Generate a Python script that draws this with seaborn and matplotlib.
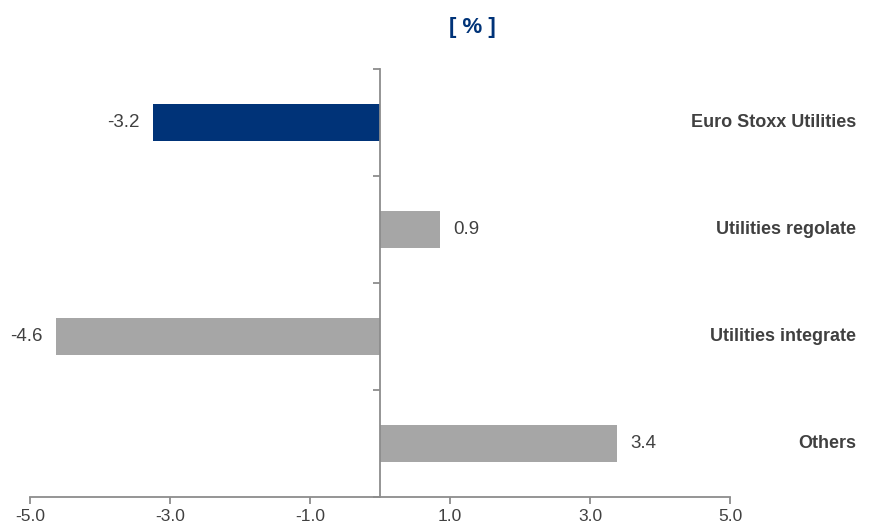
import numpy as np
import pandas as pd
import matplotlib
matplotlib.use('Agg')
import matplotlib.pyplot as plt
import matplotlib.transforms as mtransforms
import seaborn as sns

# данные
categories = ['Euro Stoxx Utilities', 'Utilities regolate', 'Utilities integrate', 'Others']
values = [-3.24, 0.86, -4.63, 3.39]
groups = ['index', 'other', 'other', 'other']
x_ticks = [-5.0, -3.0, -1.0, 1.0, 3.0, 5.0]

df = pd.DataFrame({'cat': categories, 'val': values, 'grp': groups})

sns.set_style('white')
plt.rcParams['font.family'] = ['Liberation Sans', 'DejaVu Sans']

axis_col = '#8c8c8c'
text_col = '#404040'
navy = '#003378'
grey = '#a6a6a6'

fig = plt.figure(figsize=(8.7, 5.27), dpi=100)
ax = fig.add_axes([30 / 870, 30 / 527, 700 / 870, 428 / 527])

sns.barplot(data=df, x='val', y='cat', hue='grp', orient='h', dodge=False,
            palette={'index': navy, 'other': grey}, width=0.34, saturation=1,
            linewidth=0, legend=False, ax=ax)

ax.set_xlim(-5, 5)
ax.set_ylim(3.5, -0.5)
ax.set_xticks(x_ticks)
ax.set_xticklabels([f'{t:.1f}' for t in x_ticks], fontsize=12.5, color=text_col)
ax.set_yticks(np.arange(-0.5, len(categories), 1.0))
ax.set_yticklabels([])
ax.set_xlabel('')
ax.set_ylabel('')

for s in ['top', 'right']:
    ax.spines[s].set_visible(False)
ax.spines['left'].set_position(('data', 0))
for s in ['left', 'bottom']:
    ax.spines[s].set_color(axis_col)
    ax.spines[s].set_linewidth(1.3)
ax.tick_params(axis='both', direction='out', length=5, width=1.3, color=axis_col,
               bottom=True, left=True)
ax.tick_params(axis='x', pad=3.5)

# подписи значений
for cont in ax.containers:
    ax.bar_label(cont, fmt='%.1f', padding=9.5, fontsize=13.5, color=text_col)

# названия категорий справа
trans = mtransforms.blended_transform_factory(fig.transFigure, ax.transData)
for i, c in enumerate(categories):
    ax.text(856 / 870, i, c, transform=trans, ha='right', va='center',
            fontsize=13, fontweight='bold', color=text_col, clip_on=False)

fig.text(472 / 870, 1 - 27 / 527, '[ % ]', ha='center', va='center',
         fontsize=16, fontweight='bold', color=navy)

plt.savefig('out.png', dpi=100)
